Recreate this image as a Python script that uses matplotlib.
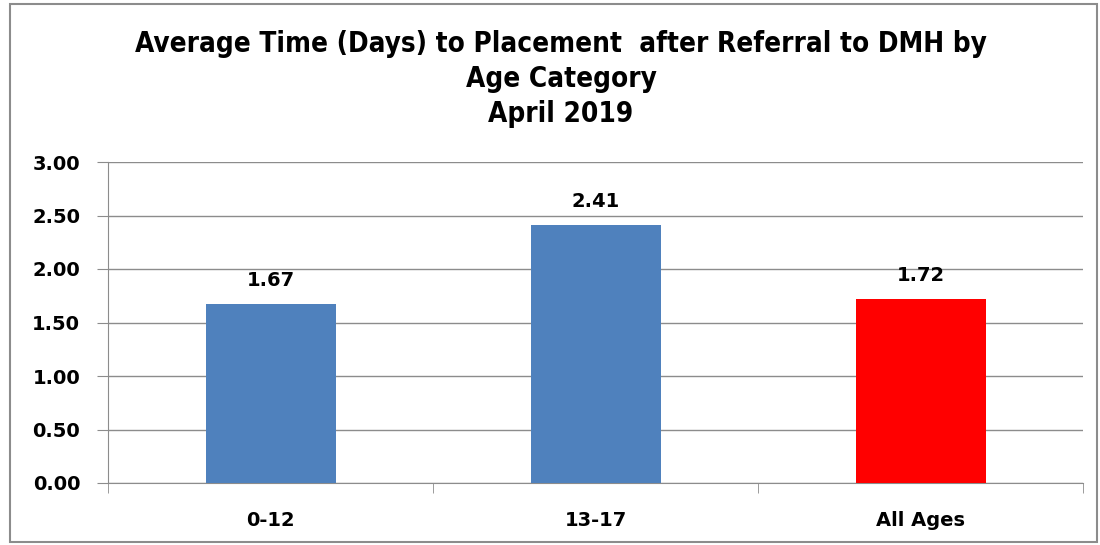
import matplotlib
matplotlib.use('Agg')
import matplotlib.pyplot as plt
from matplotlib.patches import Rectangle

# data
categories = ['0-12', '13-17', 'All Ages']
avg_days = [1.67, 2.41, 1.72]
bar_colors = ['#4F81BD', '#4F81BD', '#FF0000']
yticks = [0.0, 0.5, 1.0, 1.5, 2.0, 2.5, 3.0]

fig = plt.figure(figsize=(11, 5.45), dpi=100)
ax = fig.add_axes([108/1100, 1 - 483/545, (1083 - 108)/1100, (483 - 162)/545])

# outer chart border
fig.patches.append(Rectangle((10/1100, 3/545), 1087/1100, 538/545, transform=fig.transFigure,
                             fill=False, edgecolor='#8c8c8c', linewidth=1.5))

x = range(len(categories))
bars = ax.bar(x, avg_days, width=0.40, color=bar_colors, zorder=3)
for b, v in zip(bars, avg_days):
    ax.text(b.get_x() + b.get_width()/2, v + 0.13, f'{v:.2f}', ha='center', va='bottom',
            fontsize=14, fontweight='bold')

ax.set_xlim(-0.5, len(categories) - 0.5)
ax.set_ylim(0, 3.0)
ax.set_yticks(yticks)
ax.set_yticklabels([f'{t:.2f}' for t in yticks], fontsize=14, fontweight='bold')
ax.set_xticks(list(x))
ax.set_xticklabels(categories, fontsize=14, fontweight='bold')
ax.tick_params(axis='x', length=0, pad=20)
ax.tick_params(axis='y', length=8, color='#8c8c8c', pad=12)

# category boundary ticks on the x axis
ax.set_xticks([-0.5, 0.5, 1.5, 2.5], minor=True)
ax.tick_params(axis='x', which='minor', length=7, color='#8c8c8c')

ax.grid(axis='y', color='#8c8c8c', linewidth=1, zorder=0)
for s in ['top', 'right']:
    ax.spines[s].set_visible(False)
ax.spines['left'].set_color('#8c8c8c')
ax.spines['bottom'].set_color('#8c8c8c')

fig.text(561/1100, 1 - 79/545, 'Average Time (Days) to Placement  after Referral to DMH by\nAge Category\nApril 2019',
         ha='center', va='center', fontsize=20, fontweight='bold', linespacing=1.33,
         family='DejaVu Sans', fontstretch='condensed')

fig.savefig('out.png', dpi=100)
